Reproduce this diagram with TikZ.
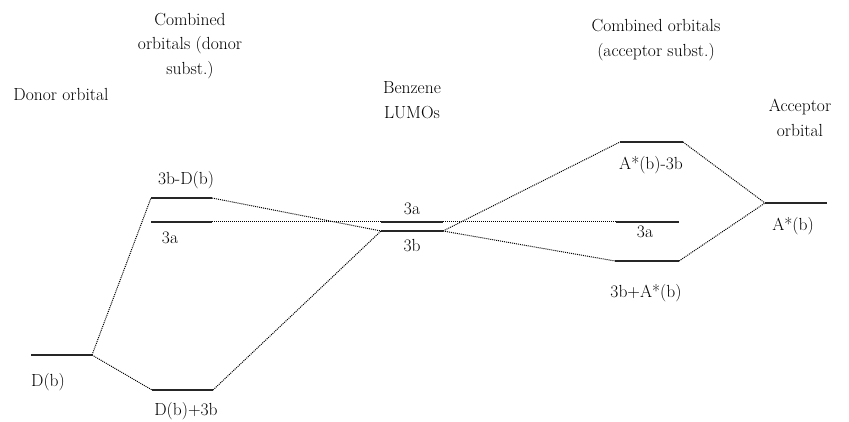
\documentclass[tikz,border=0pt]{standalone}
\usepackage{fontspec}
\begin{document}
\begin{tikzpicture}[x=1pt,y=-1pt,
  level/.style={line width=1.4pt,draw=black!85},
  conn/.style={densely dotted,line width=1pt,draw=black},
  lbl/.style={font=\fontsize{17.5}{24}\selectfont,inner sep=0pt,anchor=center},
  ttl/.style={font=\fontsize{17.5}{24.5}\selectfont,inner sep=0pt,align=center,anchor=center}]
\useasboundingbox (0,0) rectangle (849,422);
% level end points
\coordinate (DbL) at (31,355);   \coordinate (DbR) at (92,355);
\coordinate (DpL) at (152,390);  \coordinate (DpR) at (213,390);
\coordinate (DmL) at (151,198);  \coordinate (DmR) at (212,198);
\coordinate (LaL) at (151,222);  \coordinate (LaR) at (212,222);
\coordinate (BaL) at (381,222);  \coordinate (BaR) at (443,222);
\coordinate (BbL) at (381,231);  \coordinate (BbR) at (443,231);
\coordinate (AmL) at (620,142);  \coordinate (AmR) at (683,142);
\coordinate (RaL) at (616,222);  \coordinate (RaR) at (679,222);
\coordinate (ApL) at (615,261);  \coordinate (ApR) at (679,261);
\coordinate (AbL) at (765,203);  \coordinate (AbR) at (827,203);
% levels
\foreach \a in {Db,Dp,Dm,La,Ba,Bb,Am,Ra,Ap,Ab}
  \draw[level] (\a L) -- (\a R);
% connectors
\draw[conn] (DbR) -- (DmL);
\draw[conn] (DbR) -- (DpL);
\draw[conn] (DpR) -- (BbL);
\draw[conn] (DmR) -- (BbL);
\draw[conn] (LaR) -- (BaL);
\draw[conn] (BbR) -- (AmL);
\draw[conn] (BaR) -- (RaL);
\draw[conn] (BbR) -- (ApL);
\draw[conn] (AmR) -- (AbL);
\draw[conn] (ApR) -- (AbL);
% level labels
\node[lbl] (tDb) at (48,382) {D(b)};
\node[lbl] (tDp) at (186,411) {D(b)+3b};
\node[lbl] (tDm) at (186,180) {3b-D(b)};
\node[lbl] (tLa) at (170,238) {3a};
\node[lbl] (tBa) at (412,209) {3a};
\node[lbl] (tBb) at (412,246) {3b};
\node[lbl] (tAm) at (651,165) {A*(b)-3b};
\node[lbl] (tRa) at (645,232) {3a};
\node[lbl] (tAp) at (646,293) {3b+A*(b)};
\node[lbl] (tAb) at (793,226) {A*(b)};
% column titles
\node[ttl] (h1) at (61,94) {Donor orbital};
\node[ttl] (h2) at (190,46) {Combined\\orbitals (donor\\subst.)};
\node[ttl] (h3) at (412,100) {Benzene\\LUMOs};
\node[ttl] (h4) at (656,40) {Combined orbitals\\(acceptor subst.)};
\node[ttl] (h5) at (800,118) {Acceptor\\orbital};
\end{tikzpicture}
\end{document}
